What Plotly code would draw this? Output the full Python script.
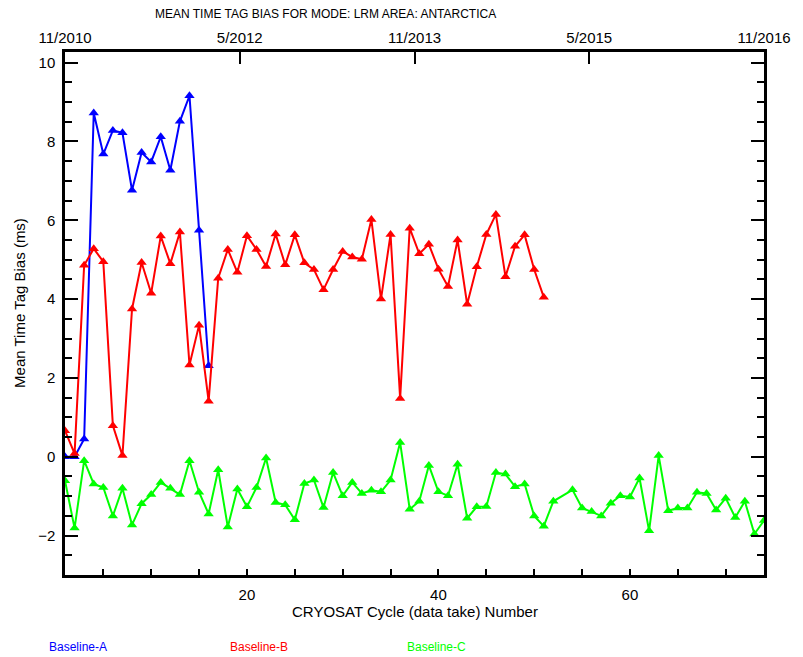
import plotly.graph_objects as go

cycles_a = list(range(1, 17))
bias_a = [0.0, 0.0, 0.45, 8.72, 7.68, 8.28, 8.22, 6.76, 7.72, 7.48, 8.12, 7.27, 8.51, 9.16, 5.75, 2.31]

cycles_b = list(range(1, 52))
bias_b = [0.66, 0.08, 4.86, 5.28, 4.95, 0.79, 0.03, 3.75, 4.93, 4.15, 5.6, 4.9, 5.7, 2.33, 3.34,
          1.41, 4.53, 5.26, 4.68, 5.61, 5.26, 4.83, 5.65, 4.87, 5.63, 4.92, 4.75, 4.24, 4.75, 5.21,
          5.07, 5.01, 6.02, 4.0, 5.64, 1.48, 5.8, 5.15, 5.39, 4.76, 4.32, 5.5, 3.87, 4.82, 5.64,
          6.15, 4.57, 5.34, 5.63, 4.75, 4.05]

cycles_c = list(range(1, 53)) + list(range(54, 75))
bias_c = [-0.61, -1.81, -0.1, -0.69, -0.78, -1.5, -0.8, -1.73, -1.19, -0.96, -0.65, -0.8, -0.96,
          -0.1, -0.9, -1.45, -0.33, -1.78, -0.82, -1.27, -0.78, -0.03, -1.16, -1.22, -1.6, -0.68,
          -0.59, -1.29, -0.4, -0.99, -0.65, -0.93, -0.85, -0.89, -0.59, 0.36, -1.33, -1.13, -0.22,
          -0.89, -0.99, -0.19, -1.56, -1.27, -1.26, -0.4, -0.44, -0.76, -0.69, -1.5, -1.76, -1.13,
          -0.84, -1.3, -1.39, -1.5, -1.18, -0.99, -1.02, -0.54, -1.88, 0.03, -1.37, -1.3, -1.3,
          -0.9, -0.93, -1.35, -1.05, -1.54, -1.13, -1.96, -1.62]

top_dates = ["11/2010", "5/2012", "11/2013", "5/2015", "11/2016"]
series_names = ["Baseline-A", "Baseline-B", "Baseline-C"]
colors = ["#0000ff", "#ff0000", "#00ff00"]

FONT = "Liberation Sans"

fig = go.Figure()
for xs, ys, name, col in zip([cycles_a, cycles_b, cycles_c], [bias_a, bias_b, bias_c], series_names, colors):
    fig.add_trace(go.Scatter(
        x=xs, y=ys, mode="lines+markers", name=name,
        line=dict(color=col, width=2),
        marker=dict(symbol="triangle-up", size=9, color=col),
        cliponaxis=True, showlegend=False,
    ))

# dummy trace to anchor the top date axis
fig.add_trace(go.Scatter(x=[None], y=[None], xaxis="x2", showlegend=False, hoverinfo="skip"))

fig.update_layout(
    width=803, height=657,
    margin=dict(l=65, r=39, t=52, b=82),
    paper_bgcolor="white", plot_bgcolor="white",
    font=dict(family=FONT, size=15, color="black"),
    xaxis=dict(
        range=[1, 74], tickvals=[20, 40, 60], ticks="inside", ticklen=6, tickwidth=1.5,
        tickcolor="black", showline=True, linecolor="black", linewidth=2.5, mirror=True,
        showgrid=False, zeroline=False, ticklabelstandoff=4,
        minor=dict(dtick=5, tick0=0, ticks="inside", ticklen=6, tickwidth=1.5, tickcolor="black", showgrid=False),
        tickfont=dict(family=FONT, size=15),
    ),
    xaxis2=dict(
        overlaying="x", side="top", anchor="y", range=[0, 4],
        tickvals=[0, 1, 2, 3, 4], ticktext=top_dates, ticks="inside", ticklen=12,
        tickwidth=1.5, tickcolor="black", showline=True, linecolor="black", linewidth=2.5,
        showgrid=False, zeroline=False, tickfont=dict(family=FONT, size=15),
    ),
    yaxis=dict(
        range=[-3, 10.27], tickvals=[-2, 0, 2, 4, 6, 8, 10], ticks="inside", ticklen=13,
        tickwidth=1.5, tickcolor="black", showline=True, linecolor="black", linewidth=2.5,
        mirror="ticks", showgrid=False, zeroline=False, ticklabelstandoff=4,
        minor=dict(dtick=0.5, tick0=0, ticks="inside", ticklen=7, tickwidth=1.5, tickcolor="black", showgrid=False),
        tickfont=dict(family=FONT, size=15),
    ),
)

annots = [
    dict(text="MEAN TIME TAG BIAS FOR MODE: LRM AREA: ANTARCTICA", x=0.372, y=1.0727,
         xanchor="center", yanchor="middle", font=dict(size=12)),
    dict(text="CRYOSAT Cycle (data take) Number", x=0.5, y=-0.0707,
         xanchor="center", yanchor="middle", font=dict(size=15)),
    dict(text="Mean Time Tag Bias (ms)", x=-0.066, y=0.52, textangle=-90,
         xanchor="center", yanchor="middle", font=dict(size=15)),
]
legend_x = [-0.0258, 0.2332, 0.4864]
for name, col, lx in zip(series_names, colors, legend_x):
    annots.append(dict(text=name, x=lx, y=-0.1377, xanchor="left", yanchor="middle",
                       font=dict(size=12, color=col)))
for a in annots:
    a.update(xref="paper", yref="paper", showarrow=False)
    if "font" in a:
        a["font"].setdefault("family", FONT)
fig.update_layout(annotations=annots)

fig.write_html("out.html")
